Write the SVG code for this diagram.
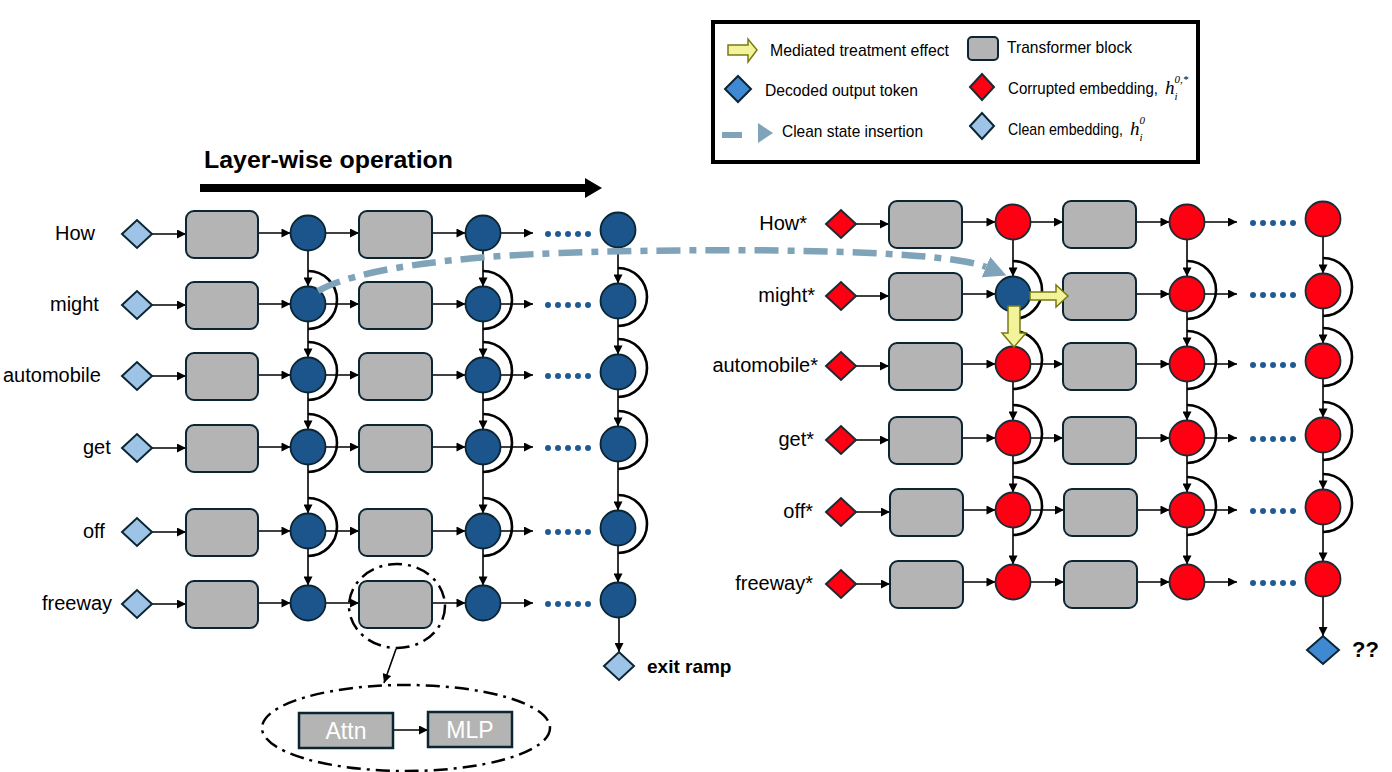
<svg xmlns="http://www.w3.org/2000/svg" width="1392" height="772" viewBox="0 0 1392 772">
<style>
.blk{fill:#b4b4b4;stroke:#0b2533;stroke-width:2}
.cb{fill:#1b558c;stroke:#0b2533;stroke-width:1.8}
.cr{fill:#ff0013;stroke:#1b2a33;stroke-width:1.8}
.dl{fill:#9dc3e6;stroke:#0b2533;stroke-width:2}
.dr{fill:#ff0013;stroke:#1b2a33;stroke-width:2}
.dd{fill:#3f88d2;stroke:#0b2533;stroke-width:2}
.ar{stroke:#000;stroke-width:1.6;fill:none;marker-end:url(#ah)}
.arc{stroke:#000;stroke-width:2.6;fill:none}
.dot{fill:#1f5a94}
.t{font-family:"Liberation Sans",Arial,sans-serif;font-size:20px;fill:#000}
.lg{font-family:"Liberation Sans",Arial,sans-serif;font-size:17px;fill:#000}
.m{font-family:"Liberation Serif","Times New Roman",serif;font-style:italic;fill:#000}
.yel{fill:#f3f39b;stroke:#7a7a10;stroke-width:1.5}
.ins{fill:none;stroke:#7fa3b8;stroke-width:6.5;stroke-dasharray:24 9 7 9}
.ell{fill:none;stroke:#000;stroke-width:2.5;stroke-dasharray:14 6 3 6}
.sq{fill:#b4b4b4;stroke:#0b2533;stroke-width:2.5}
.wt{font-family:"Liberation Sans",Arial,sans-serif;fill:#fff;text-anchor:middle}
</style>
<defs>
<marker id="ah" viewBox="0 0 10 10" refX="10" refY="5" markerWidth="9.5" markerHeight="9" markerUnits="userSpaceOnUse" orient="auto"><path d="M0,0 L10,5 L0,10 z" fill="#000"/></marker>
<marker id="ih" viewBox="0 0 10 10" refX="0" refY="5" markerWidth="22" markerHeight="24" markerUnits="userSpaceOnUse" orient="auto"><path d="M0,0 L10,5 L0,10 z" fill="#7fa3b8"/></marker>
</defs>
<rect width="1392" height="772" fill="#fff"/>

<g id="legend">
<rect x="713" y="22" width="485" height="140" fill="#fff" stroke="#000" stroke-width="4"/>
<polygon class="yel" points="728,45 748,45 748,39 757,50 748,62 748,55 728,55"/>
<text class="lg" x="770" y="56" textLength="179" lengthAdjust="spacingAndGlyphs">Mediated treatment effect</text>
<rect x="968" y="37" width="30" height="23" rx="4" class="blk"/>
<text class="lg" x="1007" y="53" textLength="125" lengthAdjust="spacingAndGlyphs">Transformer block</text>
<polygon class="dd" points="725,89 738,76 751,89 738,102"/>
<text class="lg" x="765" y="96" textLength="153" lengthAdjust="spacingAndGlyphs">Decoded output token</text>
<polygon class="dr" points="970,87 982,74 994,87 982,100"/>
<text class="lg" x="1008" y="94" textLength="150" lengthAdjust="spacingAndGlyphs">Corrupted embedding,</text>
<text class="m" x="1165" y="94"><tspan font-size="19">h</tspan><tspan font-size="11" dy="6">i</tspan><tspan font-size="11" dx="-3" dy="-17">0,*</tspan></text>
<rect x="722" y="132" width="20" height="6" fill="#7fa3b8"/>
<polygon points="758,123 773,133 758,143" fill="#7fa3b8"/>
<text class="lg" x="782" y="137" textLength="141" lengthAdjust="spacingAndGlyphs">Clean state insertion</text>
<polygon class="dl" points="970,126 982,113 994,126 982,139"/>
<text class="lg" x="1008" y="135" textLength="115" lengthAdjust="spacingAndGlyphs">Clean embedding,</text>
<text class="m" x="1130" y="135"><tspan font-size="19">h</tspan><tspan font-size="11" dy="6">i</tspan><tspan font-size="11" dx="-3" dy="-17">0</tspan></text>
</g>

<g id="title">
<text x="204" y="168" font-family="Liberation Sans,Arial,sans-serif" font-weight="bold" font-size="23" textLength="249" lengthAdjust="spacingAndGlyphs">Layer-wise operation</text>
<polygon points="200,184 585,184 585,178 602,188 585,198 585,192 200,192" fill="#000"/>
</g>

<g id="left-labels" class="t">
<text x="55" y="240">How</text>
<text x="50" y="311">might</text>
<text x="3" y="382">automobile</text>
<text x="83" y="454">get</text>
<text x="83" y="538">off</text>
<text x="42" y="610">freeway</text>
</g>

<g id="right-labels" class="t" text-anchor="end">
<text x="807" y="230">How*</text>
<text x="815" y="302">might*</text>
<text x="818" y="372">automobile*</text>
<text x="814" y="446">get*</text>
<text x="813" y="518">off*</text>
<text x="813" y="590">freeway*</text>
</g>

<g id="connectors">
<path class="ar" d="M152,234H186"/><path class="ar" d="M258,233H290.5"/><path class="ar" d="M325.5,233H359"/><path class="ar" d="M432,233H465.5"/><path class="ar" d="M500.5,233H533"/>
<path class="ar" d="M152,305H186"/><path class="ar" d="M258,304H290.5"/><path class="ar" d="M325.5,304H359"/><path class="ar" d="M432,304H465.5"/><path class="ar" d="M500.5,304H533"/>
<path class="ar" d="M152,376H186"/><path class="ar" d="M258,375H290.5"/><path class="ar" d="M325.5,375H359"/><path class="ar" d="M432,375H465.5"/><path class="ar" d="M500.5,375H533"/>
<path class="ar" d="M152,448H186"/><path class="ar" d="M258,447H290.5"/><path class="ar" d="M325.5,447H359"/><path class="ar" d="M432,447H465.5"/><path class="ar" d="M500.5,447H533"/>
<path class="ar" d="M152,532H186"/><path class="ar" d="M258,531H290.5"/><path class="ar" d="M325.5,531H359"/><path class="ar" d="M432,531H465.5"/><path class="ar" d="M500.5,531H533"/>
<path class="ar" d="M152,604H186"/><path class="ar" d="M258,603H290.5"/><path class="ar" d="M325.5,603H359"/><path class="ar" d="M432,603H465.5"/><path class="ar" d="M500.5,603H533"/>
<path class="ar" d="M308,250.5V286.5"/><path class="ar" d="M308,321.5V357.5"/><path class="ar" d="M308,392.5V429.5"/><path class="ar" d="M308,464.5V513.5"/><path class="ar" d="M308,548.5V585.5"/>
<path class="ar" d="M483,250.5V286.5"/><path class="ar" d="M483,321.5V357.5"/><path class="ar" d="M483,392.5V429.5"/><path class="ar" d="M483,464.5V513.5"/><path class="ar" d="M483,548.5V585.5"/>
<path class="ar" d="M618,247.5V283.5"/><path class="ar" d="M618,318.5V354.5"/><path class="ar" d="M618,389.5V426.5"/><path class="ar" d="M618,461.5V510.5"/><path class="ar" d="M618,545.5V582.5"/><path class="ar" d="M619,617.5V652"/>
<path class="arc" d="M308,271A29,29 0 0 1 308,329 M308,342A29,29 0 0 1 308,400 M308,414A29,29 0 0 1 308,472 M308,498A29,29 0 0 1 308,556"/>
<path class="arc" d="M483,271A29,29 0 0 1 483,329 M483,342A29,29 0 0 1 483,400 M483,414A29,29 0 0 1 483,472 M483,498A29,29 0 0 1 483,556"/>
<path class="arc" d="M618,268A29,29 0 0 1 618,326 M618,339A29,29 0 0 1 618,397 M618,411A29,29 0 0 1 618,469 M618,495A29,29 0 0 1 618,553"/>
<path class="ar" d="M856,224H889"/><path class="ar" d="M962,222H995.5"/><path class="ar" d="M1030.5,222H1063"/><path class="ar" d="M1136,222H1169.5"/><path class="ar" d="M1204.5,222H1237"/>
<path class="ar" d="M856,296H889"/><path class="ar" d="M962,294H995.5"/><path class="ar" d="M1136,294H1169.5"/><path class="ar" d="M1204.5,294H1237"/>
<path class="ar" d="M856,366H889"/><path class="ar" d="M962,364H995.5"/><path class="ar" d="M1030.5,364H1063"/><path class="ar" d="M1136,364H1169.5"/><path class="ar" d="M1204.5,364H1237"/>
<path class="ar" d="M856,440H889"/><path class="ar" d="M962,438H995.5"/><path class="ar" d="M1030.5,438H1063"/><path class="ar" d="M1136,438H1169.5"/><path class="ar" d="M1204.5,438H1237"/>
<path class="ar" d="M856,512H890"/><path class="ar" d="M963,510H995.5"/><path class="ar" d="M1030.5,510H1064"/><path class="ar" d="M1137,510H1169.5"/><path class="ar" d="M1204.5,510H1237"/>
<path class="ar" d="M856,584H890"/><path class="ar" d="M963,582H995.5"/><path class="ar" d="M1030.5,582H1064"/><path class="ar" d="M1137,582H1169.5"/><path class="ar" d="M1204.5,582H1237"/>
<path class="ar" d="M1013,239.5V276.5"/><path class="ar" d="M1013,381.5V420.5"/><path class="ar" d="M1013,455.5V492.5"/><path class="ar" d="M1013,527.5V564.5"/>
<path class="ar" d="M1187,239.5V276.5"/><path class="ar" d="M1187,311.5V346.5"/><path class="ar" d="M1187,381.5V420.5"/><path class="ar" d="M1187,455.5V492.5"/><path class="ar" d="M1187,527.5V564.5"/>
<path class="ar" d="M1323,236.5V273.5"/><path class="ar" d="M1323,308.5V343.5"/><path class="ar" d="M1323,378.5V417.5"/><path class="ar" d="M1323,452.5V489.5"/><path class="ar" d="M1323,524.5V561.5"/><path class="ar" d="M1323,596.5V636"/>
<path class="arc" d="M1013,261A29,29 0 0 1 1013,319 M1013,331A29,29 0 0 1 1013,389 M1013,405A29,29 0 0 1 1013,463 M1013,477A29,29 0 0 1 1013,535"/>
<path class="arc" d="M1187,261A29,29 0 0 1 1187,319 M1187,331A29,29 0 0 1 1187,389 M1187,405A29,29 0 0 1 1187,463 M1187,477A29,29 0 0 1 1187,535"/>
<path class="arc" d="M1323,258A29,29 0 0 1 1323,316 M1323,328A29,29 0 0 1 1323,386 M1323,402A29,29 0 0 1 1323,460 M1323,474A29,29 0 0 1 1323,532"/>
<path class="ar" d="M396,649L384,683"/>
<path class="ar" d="M393,730H428"/>
</g>

<g id="left-grid">
<g id="L-how">
<polygon class="dl" points="122,234 137,220 152,234 137,248"/>
<rect class="blk" x="186" y="211" width="72" height="47" rx="8"/>
<circle class="cb" cx="308" cy="233" r="17.5"/>
<rect class="blk" x="359" y="211" width="73" height="47" rx="8"/>
<circle class="cb" cx="483" cy="233" r="17.5"/>
<g class="dot"><circle cx="548" cy="234" r="3"/><circle cx="558" cy="234" r="3"/><circle cx="568" cy="234" r="3"/><circle cx="578" cy="234" r="3"/><circle cx="588" cy="234" r="3"/></g>
<circle class="cb" cx="618" cy="230" r="17.5"/>
</g>
<g id="L-might">
<polygon class="dl" points="122,305 137,291 152,305 137,319"/>
<rect class="blk" x="186" y="282" width="72" height="47" rx="8"/>
<circle class="cb" cx="308" cy="304" r="17.5"/>
<rect class="blk" x="359" y="282" width="73" height="47" rx="8"/>
<circle class="cb" cx="483" cy="304" r="17.5"/>
<g class="dot"><circle cx="548" cy="305" r="3"/><circle cx="558" cy="305" r="3"/><circle cx="568" cy="305" r="3"/><circle cx="578" cy="305" r="3"/><circle cx="588" cy="305" r="3"/></g>
<circle class="cb" cx="618" cy="301" r="17.5"/>
</g>
<g id="L-automobile">
<polygon class="dl" points="122,376 137,362 152,376 137,390"/>
<rect class="blk" x="186" y="353" width="72" height="47" rx="8"/>
<circle class="cb" cx="308" cy="375" r="17.5"/>
<rect class="blk" x="359" y="353" width="73" height="47" rx="8"/>
<circle class="cb" cx="483" cy="375" r="17.5"/>
<g class="dot"><circle cx="548" cy="376" r="3"/><circle cx="558" cy="376" r="3"/><circle cx="568" cy="376" r="3"/><circle cx="578" cy="376" r="3"/><circle cx="588" cy="376" r="3"/></g>
<circle class="cb" cx="618" cy="372" r="17.5"/>
</g>
<g id="L-get">
<polygon class="dl" points="122,448 137,434 152,448 137,462"/>
<rect class="blk" x="186" y="425" width="72" height="47" rx="8"/>
<circle class="cb" cx="308" cy="447" r="17.5"/>
<rect class="blk" x="359" y="425" width="73" height="47" rx="8"/>
<circle class="cb" cx="483" cy="447" r="17.5"/>
<g class="dot"><circle cx="548" cy="448" r="3"/><circle cx="558" cy="448" r="3"/><circle cx="568" cy="448" r="3"/><circle cx="578" cy="448" r="3"/><circle cx="588" cy="448" r="3"/></g>
<circle class="cb" cx="618" cy="444" r="17.5"/>
</g>
<g id="L-off">
<polygon class="dl" points="122,532 137,518 152,532 137,546"/>
<rect class="blk" x="186" y="509" width="72" height="47" rx="8"/>
<circle class="cb" cx="308" cy="531" r="17.5"/>
<rect class="blk" x="359" y="509" width="73" height="47" rx="8"/>
<circle class="cb" cx="483" cy="531" r="17.5"/>
<g class="dot"><circle cx="548" cy="532" r="3"/><circle cx="558" cy="532" r="3"/><circle cx="568" cy="532" r="3"/><circle cx="578" cy="532" r="3"/><circle cx="588" cy="532" r="3"/></g>
<circle class="cb" cx="618" cy="528" r="17.5"/>
</g>
<g id="L-freeway">
<polygon class="dl" points="122,604 137,590 152,604 137,618"/>
<rect class="blk" x="186" y="581" width="72" height="47" rx="8"/>
<circle class="cb" cx="308" cy="603" r="17.5"/>
<rect class="blk" x="359" y="581" width="73" height="47" rx="8"/>
<circle class="cb" cx="483" cy="603" r="17.5"/>
<g class="dot"><circle cx="548" cy="604" r="3"/><circle cx="558" cy="604" r="3"/><circle cx="568" cy="604" r="3"/><circle cx="578" cy="604" r="3"/><circle cx="588" cy="604" r="3"/></g>
<circle class="cb" cx="618" cy="600" r="17.5"/>
</g>
<g id="exit-ramp">
<polygon class="dl" points="604,666 619,652 634,666 619,680"/>
<text x="647" y="673" font-family="Liberation Sans,Arial,sans-serif" font-weight="bold" font-size="19">exit ramp</text>
</g>
</g>

<g id="block-detail">
<ellipse class="ell" cx="397" cy="606" rx="48" ry="42"/>
<ellipse class="ell" cx="406" cy="728" rx="144" ry="43"/>
<g id="attn"><rect class="sq" x="299" y="713" width="94" height="35"/><text class="wt" x="346" y="739" font-size="23">Attn</text></g>
<g id="mlp"><rect class="sq" x="428" y="712" width="84" height="35"/><text class="wt" x="470" y="738" font-size="23">MLP</text></g>
</g>

<g id="right-grid">
<g id="R-how">
<polygon class="dr" points="826,224 841,210 856,224 841,238"/>
<rect class="blk" x="889" y="201" width="73" height="47" rx="8"/>
<circle class="cr" cx="1013" cy="222" r="17.5"/>
<rect class="blk" x="1063" y="201" width="73" height="47" rx="8"/>
<circle class="cr" cx="1187" cy="222" r="17.5"/>
<g class="dot"><circle cx="1253" cy="223" r="3"/><circle cx="1263" cy="223" r="3"/><circle cx="1273" cy="223" r="3"/><circle cx="1283" cy="223" r="3"/><circle cx="1293" cy="223" r="3"/></g>
<circle class="cr" cx="1323" cy="219" r="17.5"/>
</g>
<g id="R-might">
<polygon class="dr" points="826,296 841,282 856,296 841,310"/>
<rect class="blk" x="889" y="273" width="73" height="47" rx="8"/>
<circle class="cb" cx="1013" cy="294" r="17.5"/>
<rect class="blk" x="1063" y="273" width="73" height="47" rx="8"/>
<circle class="cr" cx="1187" cy="294" r="17.5"/>
<g class="dot"><circle cx="1253" cy="295" r="3"/><circle cx="1263" cy="295" r="3"/><circle cx="1273" cy="295" r="3"/><circle cx="1283" cy="295" r="3"/><circle cx="1293" cy="295" r="3"/></g>
<circle class="cr" cx="1323" cy="291" r="17.5"/>
</g>
<g id="R-automobile">
<polygon class="dr" points="826,366 841,352 856,366 841,380"/>
<rect class="blk" x="889" y="343" width="73" height="47" rx="8"/>
<circle class="cr" cx="1013" cy="364" r="17.5"/>
<rect class="blk" x="1063" y="343" width="73" height="47" rx="8"/>
<circle class="cr" cx="1187" cy="364" r="17.5"/>
<g class="dot"><circle cx="1253" cy="365" r="3"/><circle cx="1263" cy="365" r="3"/><circle cx="1273" cy="365" r="3"/><circle cx="1283" cy="365" r="3"/><circle cx="1293" cy="365" r="3"/></g>
<circle class="cr" cx="1323" cy="361" r="17.5"/>
</g>
<g id="R-get">
<polygon class="dr" points="826,440 841,426 856,440 841,454"/>
<rect class="blk" x="889" y="417" width="73" height="47" rx="8"/>
<circle class="cr" cx="1013" cy="438" r="17.5"/>
<rect class="blk" x="1063" y="417" width="73" height="47" rx="8"/>
<circle class="cr" cx="1187" cy="438" r="17.5"/>
<g class="dot"><circle cx="1253" cy="439" r="3"/><circle cx="1263" cy="439" r="3"/><circle cx="1273" cy="439" r="3"/><circle cx="1283" cy="439" r="3"/><circle cx="1293" cy="439" r="3"/></g>
<circle class="cr" cx="1323" cy="435" r="17.5"/>
</g>
<g id="R-off">
<polygon class="dr" points="826,512 841,498 856,512 841,526"/>
<rect class="blk" x="890" y="489" width="73" height="47" rx="8"/>
<circle class="cr" cx="1013" cy="510" r="17.5"/>
<rect class="blk" x="1064" y="489" width="73" height="47" rx="8"/>
<circle class="cr" cx="1187" cy="510" r="17.5"/>
<g class="dot"><circle cx="1253" cy="511" r="3"/><circle cx="1263" cy="511" r="3"/><circle cx="1273" cy="511" r="3"/><circle cx="1283" cy="511" r="3"/><circle cx="1293" cy="511" r="3"/></g>
<circle class="cr" cx="1323" cy="507" r="17.5"/>
</g>
<g id="R-freeway">
<polygon class="dr" points="826,584 841,570 856,584 841,598"/>
<rect class="blk" x="890" y="561" width="73" height="47" rx="8"/>
<circle class="cr" cx="1013" cy="582" r="17.5"/>
<rect class="blk" x="1064" y="561" width="73" height="47" rx="8"/>
<circle class="cr" cx="1187" cy="582" r="17.5"/>
<g class="dot"><circle cx="1253" cy="583" r="3"/><circle cx="1263" cy="583" r="3"/><circle cx="1273" cy="583" r="3"/><circle cx="1283" cy="583" r="3"/><circle cx="1293" cy="583" r="3"/></g>
<circle class="cr" cx="1323" cy="579" r="17.5"/>
</g>
<g id="output-unknown">
<polygon class="dd" points="1307,650 1323,636 1339,650 1323,664"/>
<text x="1352" y="657" font-family="Liberation Sans,Arial,sans-serif" font-weight="bold" font-size="22">??</text>
</g>
</g>

<g id="effects">
<path class="ins" d="M318,291 C345,275 420,258 560,253 C700,248 940,248 986,267" marker-end="url(#ih)"/>
<polygon class="yel" points="1030,292 1056,292 1056,285 1068,296 1056,307 1056,300 1030,300"/>
<polygon class="yel" points="1008,306 1020,306 1020,333 1026,333 1014,347 1002,333 1008,333"/>
</g>
</svg>
